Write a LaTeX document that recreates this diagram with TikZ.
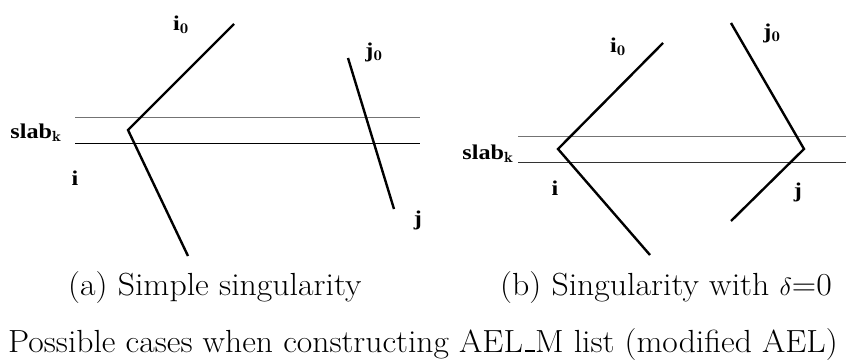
\documentclass[tikz,border=0pt]{standalone}
\usepackage{fontspec}
\newfontfamily\lblfont{Liberation Serif}
\newcommand{\widelbl}[1]{\scalebox{1.15}[1]{\lblfont\bfseries #1}}
\newcommand{\widecapt}[2][1.055]{\scalebox{#1}[1]{#2}}
\newcommand{\lowbar}{\leavevmode\kern.06em\vbox{\hrule width.3em height.06em}}
\tikzset{
  segm/.style={line width=2.4pt, line join=miter},
  slabline/.style={line width=0.9pt},
  lbl/.style={font=\lblfont\bfseries\fontsize{21}{24}\selectfont, inner sep=0pt},
  capt/.style={font=\fontsize{32}{36}\selectfont, inner sep=0pt, anchor=base west}
}
\begin{document}
\begin{tikzpicture}[x=1pt,y=-1pt]

\useasboundingbox
(0,0)
rectangle
(846,364);

% (a) simple singularity
\coordinate (A1) at (234,24);
\coordinate (A2) at (128,130);
\coordinate (A3) at (188,256);
\coordinate (B1) at (348,58);
\coordinate (B2) at (394,209);
\coordinate (SA1) at (75,117);
\coordinate (SA2) at (420,117);
\coordinate (SA3) at (75,143);
\coordinate (SA4) at (420,143);

\draw[slabline, black!55]
(SA1)
--
(SA2);

\draw[slabline]
(SA3)
--
(SA4);

\draw[segm]
(A1)
--
(A2)
--
(A3);

\draw[segm]
(B1)
--
(B2);

\node[lbl]
(ai0)
at (181,25)
{\widelbl{i$_{\mathbf 0}$}};

\node[lbl]
(aj0)
at (374,52)
{\widelbl{j$_{\mathbf 0}$}};

\node[lbl]
(aslab)
at (36,133)
{\widelbl{slab$_{\mathbf k}$}};

\node[lbl]
(ai)
at (75,178)
{\widelbl{i}};

\node[lbl]
(aj)
at (418,220)
{\widelbl{j}};

% (b) singularity with delta=0
\coordinate (C1) at (663,43);
\coordinate (C2) at (558,149);
\coordinate (C3) at (650,255);
\coordinate (D1) at (731,23);
\coordinate (D2) at (804,149);
\coordinate (D3) at (731,221);
\coordinate (SB1) at (518,136);
\coordinate (SB2) at (846,136);
\coordinate (SB3) at (518,162);
\coordinate (SB4) at (846,162);

\draw[slabline, black!55]
(SB1)
--
(SB2);

\draw[slabline, black!80]
(SB3)
--
(SB4);

\draw[segm]
(C1)
--
(C2)
--
(C3);

\draw[segm]
(D1)
--
(D2)
--
(D3);

\node[lbl]
(bi0)
at (618,47)
{\widelbl{i$_{\mathbf 0}$}};

\node[lbl]
(bj0)
at (772,33)
{\widelbl{j$_{\mathbf 0}$}};

\node[lbl]
(bslab)
at (488,154)
{\widelbl{slab$_{\mathbf k}$}};

\node[lbl]
(bi)
at (555,188)
{\widelbl{i}};

\node[lbl]
(bj)
at (798,192)
{\widelbl{j}};

% captions
\node[capt]
(capa)
at (68,295)
{\widecapt{(a) Simple singularity}};

\node[capt]
(capb)
at (500,295)
{\widecapt{(b) Singularity with $\delta$=0}};

\node[capt]
(capmain)
at (8,352)
{\widecapt[1.05]{Possible cases when constructing AEL\lowbar M list (modified AEL)}};

\end{tikzpicture}
\end{document}
